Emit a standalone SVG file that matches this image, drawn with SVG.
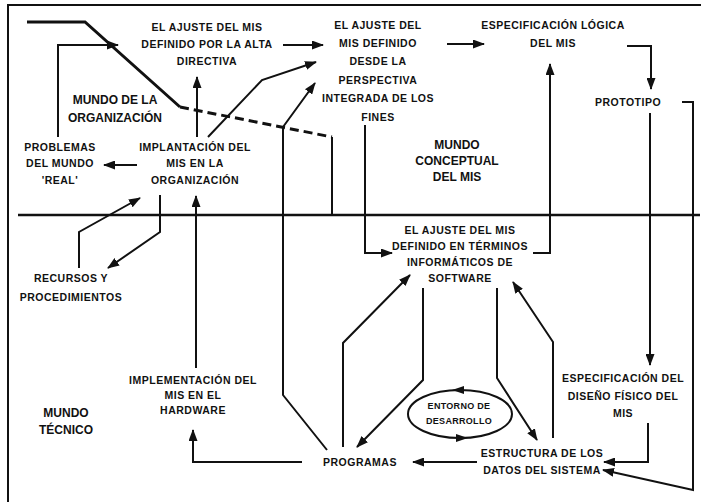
<svg xmlns="http://www.w3.org/2000/svg" width="701" height="502" viewBox="0 0 701 502">
<defs>
<style>
.t{font-family:"Liberation Sans",Arial,sans-serif;font-size:10.5px;font-weight:bold;letter-spacing:0.5px;fill:#111;text-anchor:middle}
.s{font-size:9px;letter-spacing:0.3px}
.w{font-family:"Liberation Sans",Arial,sans-serif;font-size:12px;font-weight:bold;fill:#111;text-anchor:middle}
.c{fill:none;stroke:#111;stroke-width:2;marker-end:url(#ah)}
</style>
<marker id="ah" markerUnits="userSpaceOnUse" markerWidth="12" markerHeight="9" refX="11" refY="4.5" orient="auto">
<path d="M0,0 L12,4.5 L0,9 z" fill="#111"/>
</marker>
</defs>
<rect width="701" height="502" fill="#fff"/>
<g id="frame">
<path d="M8,502 V5 H701" fill="none" stroke="#111" stroke-width="2"/>
<path d="M18,215 H700" fill="none" stroke="#111" stroke-width="2.5"/>
<path d="M27,22 H85 L180,107" fill="none" stroke="#111" stroke-width="3"/>
<path d="M180,107 L332,137" fill="none" stroke="#111" stroke-width="3" stroke-dasharray="9,5"/>
<path d="M332,137 V215" fill="none" stroke="#111" stroke-width="2"/>
</g>
<g id="labels">
<text class="w" x="115" y="104">MUNDO DE LA</text>
<text class="w" x="115" y="122">ORGANIZACIÓN</text>
<text class="w" x="457" y="149">MUNDO</text>
<text class="w" x="457" y="165">CONCEPTUAL</text>
<text class="w" x="457" y="181">DEL MIS</text>
<text class="w" x="66" y="417">MUNDO</text>
<text class="w" x="66" y="434">TÉCNICO</text>
</g>
<g id="connectors">
<path class="c" d="M58,137 V45 H118"/>
<path class="c" d="M283,45 H323"/>
<path class="c" d="M447,44 H484"/>
<path class="c" d="M627,46 H651 V89"/>
<path class="c" d="M682,102 H693 V490 L603,470"/>
<path class="c" d="M650,113 V365"/>
<path class="c" d="M648,423 V462 H604"/>
<path class="c" d="M477,462 H413"/>
<path class="c" d="M302,462 H193 V430"/>
<path class="c" d="M196,368 V196"/>
<path class="c" d="M197,137 V77"/>
<path class="c" d="M208,137 L262,80 L316,62"/>
<path class="c" d="M327,450 L283,395 V127 L315,83"/>
<path class="c" d="M343,447 V343 L410,275"/>
<path class="c" d="M423,288 V380 L357,447"/>
<path class="c" d="M497,288 V378 L537,440"/>
<path class="c" d="M553,438 V342 L513,282"/>
<path class="c" d="M365,125 V253 H392"/>
<path class="c" d="M533,253 H550 V64"/>
<path class="c" d="M160,195 V232 L108,268"/>
<path class="c" d="M79,268 V232 L140,198"/>
<path class="c" d="M137,165 H104"/>
</g>
<g id="n-ajuste-directiva">
<text class="t" x="207" y="31">EL AJUSTE DEL MIS</text>
<text class="t" x="207" y="48">DEFINIDO POR LA ALTA</text>
<text class="t" x="207" y="65">DIRECTIVA</text>
</g>
<g id="n-ajuste-fines">
<text class="t" x="378" y="29">EL AJUSTE DEL</text>
<text class="t" x="378" y="47">MIS DEFINIDO</text>
<text class="t" x="378" y="65">DESDE LA</text>
<text class="t" x="378" y="84">PERSPECTIVA</text>
<text class="t" x="378" y="102">INTEGRADA DE LOS</text>
<text class="t" x="378" y="121">FINES</text>
</g>
<g id="n-especificacion-logica">
<text class="t" x="553" y="29">ESPECIFICACIÓN LÓGICA</text>
<text class="t" x="553" y="47">DEL MIS</text>
</g>
<g id="n-prototipo">
<text class="t" x="628" y="106">PROTOTIPO</text>
</g>
<g id="n-problemas">
<text class="t" x="60" y="151">PROBLEMAS</text>
<text class="t" x="60" y="167">DEL MUNDO</text>
<text class="t" x="60" y="184">'REAL'</text>
</g>
<g id="n-implantacion">
<text class="t" x="195" y="151">IMPLANTACIÓN DEL</text>
<text class="t" x="195" y="167">MIS EN LA</text>
<text class="t" x="195" y="184">ORGANIZACIÓN</text>
</g>
<g id="n-recursos">
<text class="t" x="71" y="282">RECURSOS Y</text>
<text class="t" x="71" y="301">PROCEDIMIENTOS</text>
</g>
<g id="n-ajuste-software">
<text class="t" x="460" y="234">EL AJUSTE DEL MIS</text>
<text class="t" x="460" y="250">DEFINIDO EN TÉRMINOS</text>
<text class="t" x="460" y="266">INFORMÁTICOS DE</text>
<text class="t" x="460" y="282">SOFTWARE</text>
</g>
<g id="n-hardware">
<text class="t" x="193" y="384">IMPLEMENTACIÓN DEL</text>
<text class="t" x="193" y="399">MIS EN EL</text>
<text class="t" x="193" y="414">HARDWARE</text>
</g>
<g id="n-diseno-fisico">
<text class="t" x="623" y="382">ESPECIFICACIÓN DEL</text>
<text class="t" x="623" y="400">DISEÑO FÍSICO DEL</text>
<text class="t" x="623" y="417">MIS</text>
</g>
<g id="n-entorno">
<ellipse cx="460" cy="414" rx="52" ry="24" fill="none" stroke="#111" stroke-width="2"/>
<path d="M452,390 L464,386 L464,394 z" fill="#111"/>
<path d="M468,438 L456,434 L456,442 z" fill="#111"/>
<text class="t s" x="459" y="409">ENTORNO DE</text>
<text class="t s" x="459" y="424">DESARROLLO</text>
</g>
<g id="n-programas">
<text class="t" x="360" y="466">PROGRAMAS</text>
</g>
<g id="n-estructura">
<text class="t" x="542" y="457">ESTRUCTURA DE LOS</text>
<text class="t" x="542" y="474">DATOS DEL SISTEMA</text>
</g>
</svg>
